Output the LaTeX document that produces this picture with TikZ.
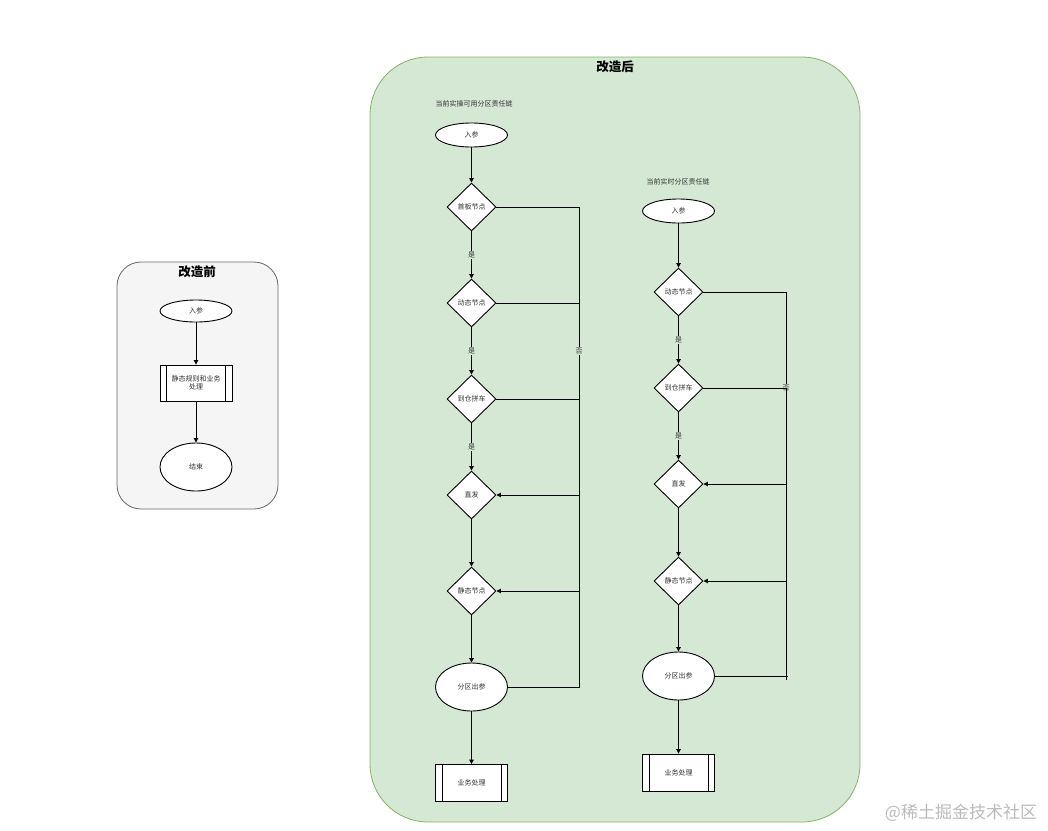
\documentclass[tikz,border=0pt]{standalone}
\usepackage{fontspec}
\newfontfamily\cjk{Noto Sans CJK SC}
\usetikzlibrary{shapes.geometric,arrows.meta}
\definecolor{grayfill}{HTML}{F5F5F5}
\definecolor{graystroke}{HTML}{666666}
\definecolor{greenfill}{HTML}{D5E8D4}
\definecolor{greenstroke}{HTML}{82B366}
\definecolor{txt}{HTML}{333333}
\definecolor{wm}{HTML}{BBBBBB}
\begin{document}
\begin{tikzpicture}[x=1pt,y=-1pt,
  every node/.style={font=\cjk\fontsize{7}{8.5}\selectfont, text=txt},
  startend/.style={ellipse, draw=black, fill=white, line width=0.9pt, minimum width=72pt, minimum height=#1, inner sep=0pt},
  startend/.default=24pt,
  decision/.style={diamond, draw=black, fill=white, line width=0.9pt, minimum width=49pt, minimum height=48pt, inner sep=0pt},
  procbox/.style={rectangle, draw=black, fill=white, line width=0.9pt, minimum width=72pt, minimum height=37pt, inner sep=0pt, align=center,
    path picture={
      \draw[line width=0.9pt] ([xshift=6.5pt]path picture bounding box.north west) -- ([xshift=6.5pt]path picture bounding box.south west);
      \draw[line width=0.9pt] ([xshift=-6.5pt]path picture bounding box.north east) -- ([xshift=-6.5pt]path picture bounding box.south east);
    }},
  arr/.style={-{Triangle[length=4.5pt,width=4.5pt]}, line width=0.9pt},
  plain/.style={line width=0.9pt},
  yeslbl/.style={fill=greenfill, inner sep=0.8pt},
  titlefont/.style={font=\cjk\bfseries\fontsize{12.5}{14}\selectfont, text=black}
]
\useasboundingbox (0,0) rectangle (1048,830);

% ---------- panels ----------
\draw[fill=grayfill, draw=graystroke, line width=0.8pt, rounded corners=24pt] (117,262) rectangle (278,509);
\draw[fill=greenfill, draw=greenstroke, line width=0.8pt, rounded corners=58pt] (370,57) rectangle (860,822);
\node[titlefont] (t1) at (197,272) {改造前};
\node[titlefont] (t2) at (615,67) {改造后};

% ---------- before ----------
\node[startend=22pt] (b0) at (196,311) {入参};
\node[procbox, minimum height=36pt] (b1) at (196,383) {静态规则和业务\\处理};
\node[startend=48pt] (b2) at (196,467) {结束};
\draw[arr] (b0) -- (b1);
\draw[arr] (b1) -- (b2);

% ---------- after: left chain ----------
\node[anchor=west] (hl) at (432,104) {当前实操可用分区责任链};
\node[startend] (la) at (471.5,135) {入参};
\node[decision] (d1) at (471.5,207) {首板节点};
\node[decision] (d2) at (471.5,303) {动态节点};
\node[decision] (d3) at (471.5,399) {到仓拼车};
\node[decision] (d4) at (471.5,495) {直发};
\node[decision] (d5) at (471.5,591) {静态节点};
\node[startend=48pt] (e1) at (471.5,687) {分区出参};
\node[procbox] (p1) at (471.5,783) {业务处理};
\coordinate (busL) at (579,0);

\draw[arr] (la) -- (d1);
\draw[arr] (d1) -- node[yeslbl] {是} (d2);
\draw[arr] (d2) -- node[yeslbl] {是} (d3);
\draw[arr] (d3) -- node[yeslbl] {是} (d4);
\draw[arr] (d4) -- (d5);
\draw[arr] (d5) -- (e1);
\draw[arr] (e1) -- (p1);

\draw[arr] (d1.east) -- (d1.east -| busL) -- node[yeslbl] {否} (d4.east -| busL) -- (d4.east);
\draw[plain] (d2.east) -- (d2.east -| busL);
\draw[arr] (d3.east) -- (d3.east -| busL) -- (d5.east -| busL) -- (d5.east);
\draw[plain] (e1.east) -- (e1.east -| busL) -- (d5.east -| busL);

% ---------- after: right chain ----------
\node[anchor=west] (hr) at (643,182) {当前实时分区责任链};
\node[startend] (r0) at (678.5,211) {入参};
\node[decision] (r2) at (678.5,292) {动态节点};
\node[decision] (r3) at (678.5,388) {到仓拼车};
\node[decision] (r4) at (678.5,484) {直发};
\node[decision] (r5) at (678.5,581) {静态节点};
\node[startend=48pt] (re) at (678.5,676) {分区出参};
\node[procbox] (rp) at (678.5,772.5) {业务处理};
\coordinate (busR) at (786,0);

\draw[arr] (r0) -- (r2);
\draw[arr] (r2) -- node[yeslbl] {是} (r3);
\draw[arr] (r3) -- node[yeslbl] {是} (r4);
\draw[arr] (r4) -- (r5);
\draw[arr] (r5) -- (re);
\draw[arr] (re) -- (rp);

\draw[arr] (r2.east) -- (r2.east -| busR) -- node[yeslbl] {否} (r4.east -| busR) -- (r4.east);
\draw[arr] (r3.east) -- (r3.east -| busR) -- (r5.east -| busR) -- (r5.east);
\draw[plain] (re.east) -- ([xshift=1.5pt]re.east -| busR);
\draw[plain] ([yshift=-4pt]re.east -| busR) -- (r5.east -| busR);

% ---------- watermark ----------
\node[font=\cjk\fontsize{17}{20}\selectfont, text=wm] (wmk) at (961,813) {@稀土掘金技术社区};
\end{tikzpicture}
\end{document}
